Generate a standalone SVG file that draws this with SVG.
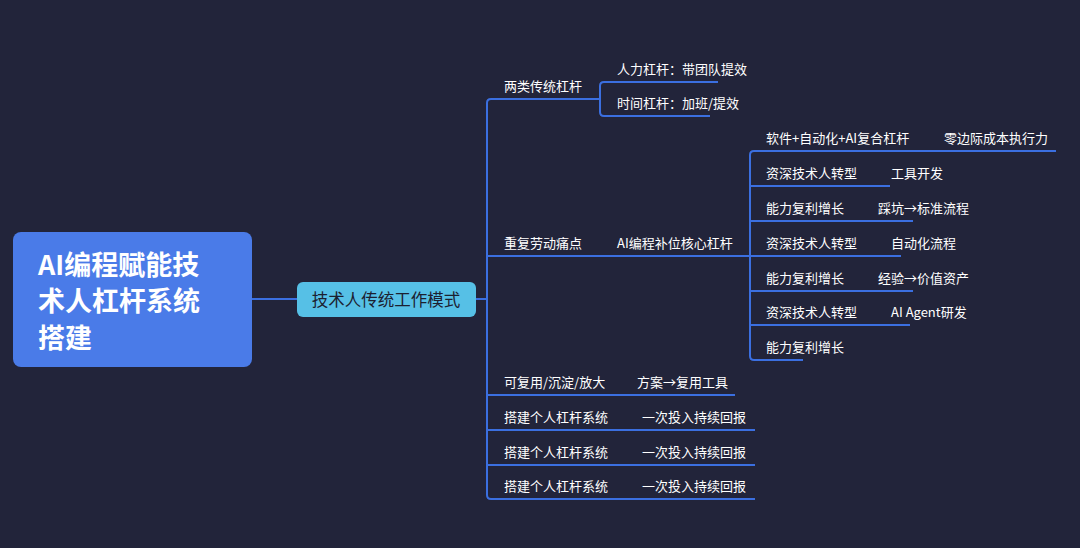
<svg xmlns="http://www.w3.org/2000/svg" width="1080" height="548" viewBox="0 0 1080 548">
<style>
.t{font-family:"Noto Sans CJK SC","Liberation Sans",sans-serif;font-size:13px;fill:#ffffff}
.c{fill:none;stroke:#3b6fe0;stroke-width:2;stroke-linejoin:round}
</style>
<rect width="1080" height="548" fill="#22243a"/>
<g id="connectors">
<path class="c" d="M252 299H297M476 299H487"/>
<path class="c" d="M600 99H491Q487 99 487 103V495Q487 499 491 499H755"/>
<path class="c" d="M487 256H750M487 395H735M487 430H755M487 465H755"/>
<path class="c" d="M718 82H604Q600 82 600 86V112Q600 116 604 116H710"/>
<path class="c" d="M1056 151H754Q750 151 750 155V356Q750 360 754 360H803"/>
<path class="c" d="M750 186H890M750 221H913M750 256H901M750 291H913M750 325H910"/>
</g>
<g id="root"><rect x="13" y="232" width="239" height="135" rx="8" fill="#4a7be8"/>
<text font-family="Noto Sans CJK SC,Liberation Sans,sans-serif" font-size="27" font-weight="bold" fill="#fff"><tspan x="38" y="275">AI编程赋能技</tspan><tspan x="38" y="311">术人杠杆系统</tspan><tspan x="38" y="348">搭建</tspan></text></g>
<g id="center"><rect x="297" y="282" width="179" height="35" rx="6" fill="#56c0e6"/><text x="386" y="306" class="t" style="font-size:16.5px;fill:#1c2030" text-anchor="middle">技术人传统工作模式</text></g>
<g id="n1"><text class="t" x="504" y="91">两类传统杠杆</text></g>
<g id="n1a"><text class="t" x="617" y="74">人力杠杆：带团队提效</text></g>
<g id="n1b"><text class="t" x="617" y="108">时间杠杆：加班/提效</text></g>
<g id="n2"><text class="t" x="504" y="248">重复劳动痛点</text><text class="t" x="617" y="248">AI编程补位核心杠杆</text></g>
<g id="n2a"><text class="t" x="766" y="143">软件+自动化+AI复合杠杆</text><text class="t" x="944" y="143">零边际成本执行力</text></g>
<g id="n2b"><text class="t" x="766" y="178">资深技术人转型</text><text class="t" x="891" y="178">工具开发</text></g>
<g id="n2c"><text class="t" x="766" y="213">能力复利增长</text><text class="t" x="878" y="213">踩坑→标准流程</text></g>
<g id="n2d"><text class="t" x="766" y="248">资深技术人转型</text><text class="t" x="891" y="248">自动化流程</text></g>
<g id="n2e"><text class="t" x="766" y="283">能力复利增长</text><text class="t" x="878" y="283">经验→价值资产</text></g>
<g id="n2f"><text class="t" x="766" y="317">资深技术人转型</text><text class="t" x="891" y="317">AI Agent研发</text></g>
<g id="n2g"><text class="t" x="766" y="352">能力复利增长</text></g>
<g id="n3"><text class="t" x="504" y="387">可复用/沉淀/放大</text><text class="t" x="637" y="387">方案→复用工具</text></g>
<g id="n4"><text class="t" x="504" y="422">搭建个人杠杆系统</text><text class="t" x="642" y="422">一次投入持续回报</text></g>
<g id="n5"><text class="t" x="504" y="457">搭建个人杠杆系统</text><text class="t" x="642" y="457">一次投入持续回报</text></g>
<g id="n6"><text class="t" x="504" y="491">搭建个人杠杆系统</text><text class="t" x="642" y="491">一次投入持续回报</text></g>
</svg>
